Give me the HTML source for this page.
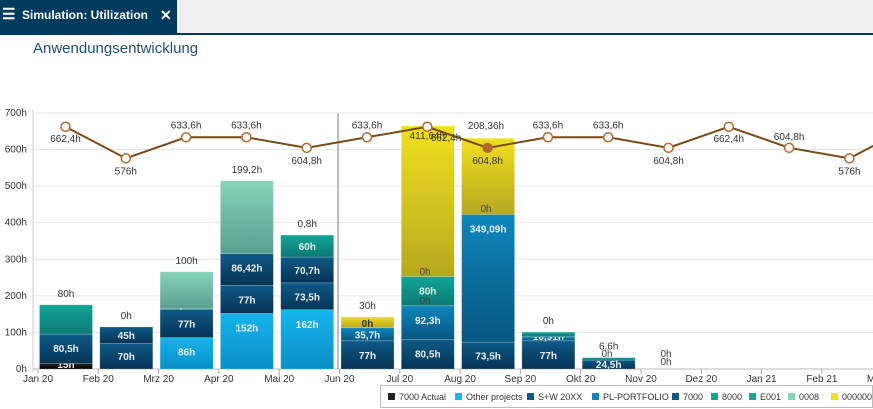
<!DOCTYPE html>
<html><head><meta charset="utf-8">
<style>
body{margin:0;width:873px;height:409px;overflow:hidden;background:#fff;font-family:"Liberation Sans",sans-serif}
.hdr{position:absolute;left:0;top:0;width:873px;height:33px;background:#efefef;border-bottom:2px solid #003a5d}
.tab{position:absolute;left:0;top:0;width:177px;height:33px;background:#003a5d;color:#fff;font-weight:bold;font-size:12px;line-height:30px}
.title{position:absolute;left:33px;top:40px;font-size:15px;color:#1f4e79}
svg{position:absolute;left:0;top:0}
</style></head><body>
<div class="hdr"><div class="tab"><span style="position:absolute;left:2px;top:0;font-size:15px">&#9776;</span><span style="position:absolute;left:22px">Simulation: Utilization</span><span style="position:absolute;left:160px;font-size:14px">&#10005;</span></div></div>
<div class="title">Anwendungsentwicklung</div>
<svg id="s" width="873" height="409" xmlns="http://www.w3.org/2000/svg"></svg>
<script>
const Y0=369,K=256/700;
const C={act:['#222','#000'],oth:['#16b4ee','#0a8fc4'],sw:['#0e5a87','#053355'],pl:['#0f86bd','#06567f'],n7:['#0e5a87','#053355'],e8:['#13a597','#0b7a74'],e1:['#13a597','#0b7a74'],g8:['#86d4b8','#5a9e90'],y:['#f0e020','#b8a820']};
let s='<defs>';
for(const k in C){s+=`<linearGradient id="g${k}" x1="0" y1="0" x2="0" y2="1"><stop offset="0" stop-color="${C[k][0]}"/><stop offset="1" stop-color="${C[k][1]}"/></linearGradient>`}
s+='</defs>';
for(let i=0;i<=7;i++){const y=Y0-i*100*K;s+=`<line x1="33" x2="873" y1="${y}" y2="${y}" stroke="#e4e4e4"/><text x="27" y="${y+3}" font-size="10" text-anchor="end" fill="#333">${i*100}h</text>`}
s+=`<line x1="33" x2="33" y1="110" y2="372" stroke="#ccc"/><line x1="33" x2="873" y1="${Y0}" y2="${Y0}" stroke="#bbb"/>`;
s+=`<line x1="338" x2="338" y1="113" y2="${Y0}" stroke="#aaa" stroke-width="1.5"/>`;
const M=['Jan 20','Feb 20','Mrz 20','Apr 20','Mai 20','Jun 20','Jul 20','Aug 20','Sep 20','Okt 20','Nov 20','Dez 20','Jan 21','Feb 21','Mrz 21'];
const X=i=>38+i*60.3;
M.forEach((m,i)=>{const x=X(i);s+=`<line x1="${x}" x2="${x}" y1="${Y0}" y2="${Y0+5}" stroke="#aaa"/><text x="${x}" y="382" font-size="10" text-anchor="middle" fill="#333">${m}</text>`});
const B=[
[[15,'act','15h'],[80.5,'n7','80,5h'],[80,'e8','']],'80h',
[[70,'n7','70h'],[45,'sw','45h']],'0h',
[[86,'oth','86h'],[77,'n7','77h'],[2.88,'e1','2,88h'],[100,'g8','']],'100h',
[[152,'oth','152h'],[77,'n7','77h'],[86.42,'sw','86,42h'],[199.2,'g8','']],'199,2h',
[[162,'oth','162h'],[73.5,'n7','73,5h'],[70.7,'sw','70,7h'],[60,'e8','60h']],'0,8h',
[[77,'n7','77h'],[35.7,'pl','35,7h'],[30,'y','0h']],'30h',
[[80.5,'n7','80,5h'],[92.3,'pl','92,3h'],[80,'e8','80h'],[411.6,'y','']],'',
[[73.5,'n7','73,5h'],[349.09,'pl','349,09h'],[208.36,'y','']],'',
[[77,'n7','77h'],[10.91,'pl','10,91h'],[13,'e8','']],'0h',
[[24.5,'n7','24,5h'],[6.6,'e8','']],'6,6h'];
for(let i=0;i<10;i++){const segs=B[2*i],top=B[2*i+1];let y=Y0;const x0=X(i)+1.5,w=53;
segs.forEach(([v,c,l])=>{const h=v*K;y-=h;s+=`<rect x="${x0}" y="${y}" width="${w}" height="${h}" fill="url(#g${c})" stroke="rgba(255,255,255,0.35)" stroke-width="0.6"/>`;
if(l){const ty=c=='y'&&v<40?y+h/2+3:y+Math.min(h/2,14)+4;s+=`<text x="${x0+w/2}" y="${h<12?y+h-1:ty}" font-size="10" font-weight="bold" text-anchor="middle" fill="${c=='y'?'#333':'#e8eef2'}">${l}</text>`}});
if(top)s+=`<text x="${x0+w/2}" y="${y-8}" font-size="10" text-anchor="middle" fill="#333">${top}</text>`}
const T=(x,y,t,f)=>s+=`<text x="${x}" y="${y}" font-size="10" text-anchor="middle" fill="${f||'#444'}">${t}</text>`;
T(425,275,'0h');T(425,304,'0h');T(486,212,'0h');T(607,357,'0h');T(666,357,'0h');T(666,365,'0h');
const L=[662.4,576,633.6,633.6,604.8,633.6,662.4,604.8,633.6,633.6,604.8,662.4,604.8,576,662.4];
const px=i=>X(i)+27.5,py=v=>Y0-v*K;
s+=`<polyline fill="none" stroke="#7a4a14" stroke-width="2" points="${L.map((v,i)=>px(i)+','+py(v)).join(' ')}"/>`;
const lab=['662,4h','576h','633,6h','633,6h','604,8h','633,6h','411,64h','604,8h','633,6h','633,6h','604,8h','662,4h','604,8h','576h','66'];
L.forEach((v,i)=>{const x=px(i),y=py(v);s+=`<circle cx="${x}" cy="${y}" r="4.5" fill="${i==7?'#b8672a':'#fff'}" stroke="#b8672a" stroke-width="1.5"/>`;
let ly=(v<620)?y+16:y-9; if(i==0||i==11)ly=y+15; if(i==6)ly=y+12;
if(i==12)ly=y-8; if(i==14){T(x-6,y-4,lab[i],'#333');return}
T(x,ly,lab[i],'#333')});
T(446,141,'662,4h','#333');T(486,129,'208,36h','#333');
s+=`<rect x="380.5" y="385.5" width="492" height="22" fill="#fff" stroke="#bbb"/>`;
const LG=[['act','7000 Actual',388],['oth','Other projects',455],['sw','S+W 20XX',527],['pl','PL-PORTFOLIO',592],['n7','7000',672],['e8','8000',711],['e1','E001',749],['g8','0008',788],['y','000000',831]];
LG.forEach(([c,t,lx])=>{s+=`<rect x="${lx}" y="393" width="7" height="7" fill="${C[c][0]}"/><text x="${lx+11}" y="400" font-size="9" fill="#333">${t}</text>`});
document.getElementById('s').innerHTML=s;
</script>
</body></html>
